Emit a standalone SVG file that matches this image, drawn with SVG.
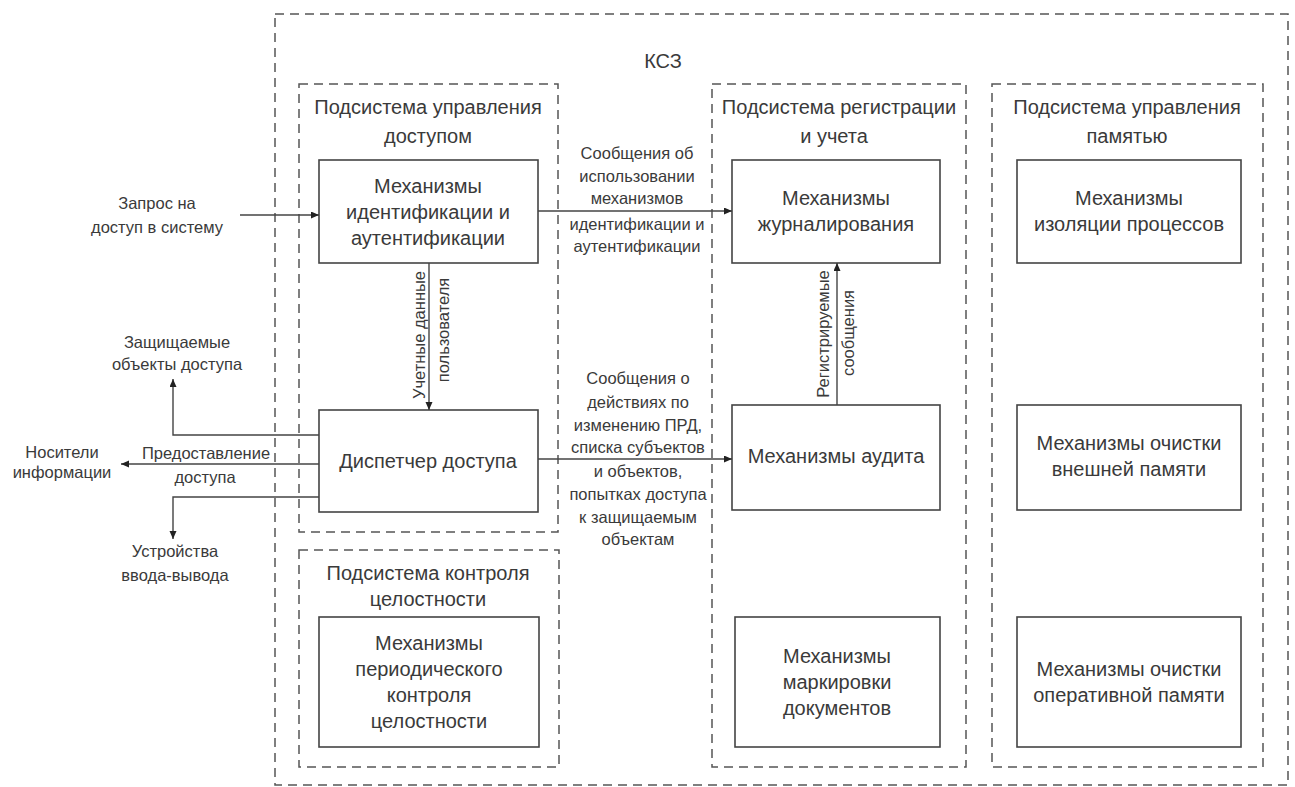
<svg xmlns="http://www.w3.org/2000/svg" width="1295" height="787" viewBox="0 0 1295 787">
<defs>
<style>
.dash{fill:none;stroke:#555;stroke-width:1.5;stroke-dasharray:9 6}
.box{fill:#fff;stroke:#444;stroke-width:1.6}
.t{font-family:"Liberation Sans",Arial,sans-serif;font-size:20px;fill:#3a3a3a;text-anchor:middle;dominant-baseline:central}
.l{font-family:"Liberation Sans",Arial,sans-serif;font-size:16.5px;fill:#3a3a3a;text-anchor:middle;dominant-baseline:central}
.c{fill:none;stroke:#444;stroke-width:1.4}
</style>
<marker id="ah" markerUnits="userSpaceOnUse" markerWidth="9" markerHeight="8" refX="8" refY="3.5" orient="auto">
<path d="M0,0 L8,3.5 L0,7 z" fill="#222"/>
</marker>
</defs>
<rect width="1295" height="787" fill="#fff"/>

<g id="ksz">
<rect class="dash" x="275" y="14" width="1013" height="771"/>
<text class="t" x="663" y="61">КСЗ</text>
</g>

<g id="sub-access">
<rect class="dash" x="299" y="84" width="259" height="448"/>
<text class="t" x="428" y="107">Подсистема управления</text>
<text class="t" x="428" y="136">доступом</text>
</g>
<g id="sub-integrity">
<rect class="dash" x="299" y="550" width="260" height="217"/>
<text class="t" x="428" y="573">Подсистема контроля</text>
<text class="t" x="428" y="599">целостности</text>
</g>
<g id="sub-registration">
<rect class="dash" x="712" y="84" width="254" height="683"/>
<text class="t" x="839" y="107">Подсистема регистрации</text>
<text class="t" x="834" y="136">и учета</text>
</g>
<g id="sub-memory">
<rect class="dash" x="992" y="84" width="271" height="683"/>
<text class="t" x="1127" y="107">Подсистема управления</text>
<text class="t" x="1127" y="136">памятью</text>
</g>

<g id="n-ident">
<rect class="box" x="319" y="160" width="219" height="103"/>
<text class="t" x="428" y="186">Механизмы</text>
<text class="t" x="428" y="212">идентификации и</text>
<text class="t" x="428" y="238">аутентификации</text>
</g>
<g id="n-dispatcher">
<rect class="box" x="319" y="410" width="219" height="102"/>
<text class="t" x="428" y="461">Диспетчер доступа</text>
</g>
<g id="n-periodic">
<rect class="box" x="319" y="617" width="220" height="130"/>
<text class="t" x="429" y="643">Механизмы</text>
<text class="t" x="429" y="669">периодического</text>
<text class="t" x="429" y="695">контроля</text>
<text class="t" x="429" y="721">целостности</text>
</g>
<g id="n-journal">
<rect class="box" x="732" y="160" width="208" height="103"/>
<text class="t" x="836" y="198">Механизмы</text>
<text class="t" x="836" y="224">журналирования</text>
</g>
<g id="n-audit">
<rect class="box" x="732" y="405" width="208" height="105"/>
<text class="t" x="836" y="456">Механизмы аудита</text>
</g>
<g id="n-marking">
<rect class="box" x="735" y="617" width="205" height="130"/>
<text class="t" x="837" y="656">Механизмы</text>
<text class="t" x="837" y="682">маркировки</text>
<text class="t" x="837" y="708">документов</text>
</g>
<g id="n-isolation">
<rect class="box" x="1017" y="160" width="224" height="103"/>
<text class="t" x="1129" y="198">Механизмы</text>
<text class="t" x="1129" y="224">изоляции процессов</text>
</g>
<g id="n-external">
<rect class="box" x="1017" y="405" width="224" height="105"/>
<text class="t" x="1129" y="443">Механизмы очистки</text>
<text class="t" x="1129" y="469">внешней памяти</text>
</g>
<g id="n-operative">
<rect class="box" x="1017" y="617" width="224" height="130"/>
<text class="t" x="1129" y="669">Механизмы очистки</text>
<text class="t" x="1129" y="695">оперативной памяти</text>
</g>

<g id="connectors">
<line class="c" x1="240" y1="215" x2="319" y2="215" marker-end="url(#ah)"/>
<line class="c" x1="538" y1="211" x2="732" y2="211" marker-end="url(#ah)"/>
<line class="c" x1="429" y1="263" x2="429" y2="410" marker-end="url(#ah)"/>
<line class="c" x1="837" y1="405" x2="837" y2="263" marker-end="url(#ah)"/>
<line class="c" x1="538" y1="459" x2="732" y2="459" marker-end="url(#ah)"/>
<polyline class="c" points="319,435 173,435 173,379" marker-end="url(#ah)"/>
<line class="c" x1="319" y1="464" x2="121" y2="464" marker-end="url(#ah)"/>
<polyline class="c" points="319,497 173,497 173,539" marker-end="url(#ah)"/>
</g>

<g id="labels">
<text class="l" x="157" y="203">Запрос на</text>
<text class="l" x="157" y="227">доступ в систему</text>

<text class="l" x="637" y="153">Сообщения об</text>
<text class="l" x="637" y="176">использовании</text>
<text class="l" x="637" y="198">механизмов</text>
<text class="l" x="637" y="224">идентификации и</text>
<text class="l" x="637" y="246">аутентификации</text>

<text class="l" transform="translate(419,335) rotate(-90)">Учетные данные</text>
<text class="l" transform="translate(443,330) rotate(-90)">пользователя</text>

<text class="l" transform="translate(823,334) rotate(-90)">Регистрируемые</text>
<text class="l" transform="translate(848,333) rotate(-90)">сообщения</text>

<text class="l" x="638" y="378">Сообщения о</text>
<text class="l" x="638" y="402">действиях по</text>
<text class="l" x="638" y="425">изменению ПРД,</text>
<text class="l" x="638" y="447">списка субъектов</text>
<text class="l" x="638" y="471">и объектов,</text>
<text class="l" x="638" y="494">попытках доступа</text>
<text class="l" x="638" y="517">к защищаемым</text>
<text class="l" x="638" y="539">объектам</text>

<text class="l" x="177" y="342">Защищаемые</text>
<text class="l" x="177" y="364">объекты доступа</text>

<text class="l" x="62" y="452">Носители</text>
<text class="l" x="62" y="472">информации</text>
<text class="l" x="206" y="453">Предоставление</text>
<text class="l" x="205" y="477">доступа</text>

<text class="l" x="175" y="551">Устройства</text>
<text class="l" x="175" y="575">ввода-вывода</text>
</g>
</svg>
